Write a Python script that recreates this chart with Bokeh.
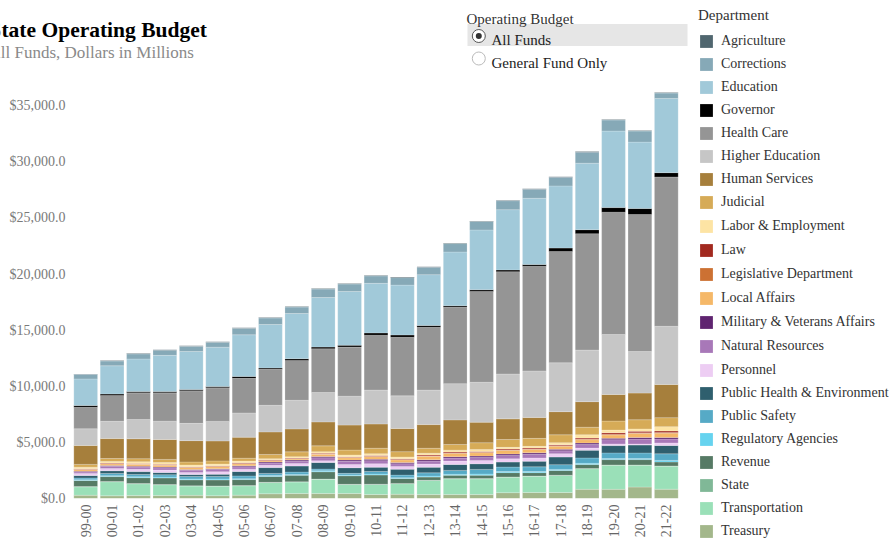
import math
from bokeh.plotting import figure
from bokeh.layouts import row, column
from bokeh.models import (ColumnDataSource, FactorRange, Range1d, Legend, LegendItem, Label,
                          NumeralTickFormatter, SingleIntervalTicker)
from bokeh.embed import file_html
from bokeh.resources import INLINE

# ---------------- data (millions of dollars) ----------------
years = ["99-00", "00-01", "01-02", "02-03", "03-04", "04-05", "05-06", "06-07", "07-08",
         "08-09", "09-10", "10-11", "11-12", "12-13", "13-14", "14-15", "15-16", "16-17",
         "17-18", "18-19", "19-20", "20-21", "21-22"]

departments = ["Agriculture", "Corrections", "Education", "Governor", "Health Care",
               "Higher Education", "Human Services", "Judicial", "Labor & Employment", "Law",
               "Legislative Department", "Local Affairs", "Military & Veterans Affairs",
               "Natural Resources", "Personnel", "Public Health & Environment", "Public Safety",
               "Regulatory Agencies", "Revenue", "State", "Transportation", "Treasury"]

dept_colors = ["#50666f", "#86a9b7", "#a1c9d9", "#000000", "#959595", "#c6c6c6", "#a67f3c",
               "#d6ab57", "#fde4a4", "#a2291f", "#cc7133", "#f5b868", "#5f2470", "#a878b8",
               "#edcdf3", "#2f5f6e", "#56aac6", "#66d3ef", "#567a65", "#80b897", "#9ae0b8",
               "#a3b78b"]

agriculture = [40, 45, 45, 45, 45, 40, 45, 50, 50, 50, 45, 45, 45, 45, 50, 50, 50, 50, 50, 55, 55, 55, 60]
corrections = [404, 426, 453, 462, 462, 431, 577, 580, 572, 750, 666, 666, 666, 666, 750, 750, 800, 800, 777, 985, 985, 985, 480]
education = [2374, 2516, 2907, 3227, 3378, 3503, 3707, 3885, 4027, 4418, 4801, 4418, 4445, 4534, 4801, 5334, 5370, 5903, 5538, 5921, 6819, 5921, 6614]
governor = [150, 124, 116, 116, 116, 116, 178, 116, 151, 142, 151, 204, 204, 151, 133, 151, 151, 151, 302, 356, 409, 533, 382]
health_care = [1920, 2311, 2374, 2525, 2907, 2996, 3076, 3200, 3556, 3912, 4383, 4890, 5218, 5601, 6801, 8090, 9121, 9335, 9921, 10375, 10908, 12215, 13308]
higher_education = [1485, 1538, 1716, 1627, 1538, 1742, 2169, 2374, 2551, 2614, 2578, 3023, 2907, 3076, 3227, 3556, 4000, 4143, 4356, 4596, 5334, 3698, 5183]
human_services = [1689, 1778, 1778, 1778, 1902, 1778, 1867, 2009, 2045, 2134, 2223, 2160, 2071, 2107, 2196, 1831, 1840, 1867, 2062, 2276, 2374, 2374, 2960]
judicial = [250, 260, 280, 285, 270, 280, 260, 380, 440, 530, 440, 500, 470, 440, 500, 600, 700, 710, 710, 680, 800, 820, 800]
labor_employment = [140, 130, 140, 150, 150, 150, 150, 100, 100, 130, 150, 160, 150, 170, 175, 175, 150, 150, 175, 290, 240, 210, 380]
law = [40, 45, 50, 50, 50, 50, 55, 50, 55, 60, 60, 60, 70, 70, 75, 75, 80, 80, 85, 90, 140, 140, 140]
legislative = [30, 32, 32, 30, 30, 32, 33, 35, 36, 37, 36, 36, 37, 38, 40, 42, 42, 45, 48, 50, 55, 60, 60]
local_affairs = [150, 160, 170, 160, 170, 180, 180, 115, 105, 190, 200, 230, 230, 300, 300, 300, 320, 300, 280, 300, 300, 360, 380]
military_veterans = [60, 70, 70, 75, 70, 75, 90, 90, 95, 110, 120, 120, 110, 120, 120, 120, 130, 130, 130, 140, 120, 140, 140]
natural_resources = [150, 190, 200, 200, 190, 200, 210, 200, 200, 270, 280, 280, 250, 265, 265, 265, 300, 330, 255, 310, 380, 430, 350]
personnel = [170, 200, 210, 220, 180, 220, 200, 200, 235, 150, 290, 300, 240, 290, 300, 300, 290, 290, 300, 200, 150, 100, 230]
public_health = [220, 250, 260, 200, 180, 200, 400, 520, 530, 590, 500, 390, 530, 500, 530, 500, 440, 500, 680, 680, 650, 700, 740]
public_safety = [160, 190, 200, 200, 220, 230, 250, 190, 215, 160, 140, 230, 230, 290, 350, 420, 400, 420, 420, 480, 500, 500, 590]
regulatory = [70, 80, 80, 80, 80, 80, 80, 80, 80, 80, 75, 80, 70, 90, 90, 100, 100, 100, 100, 110, 100, 95, 140]
revenue = [540, 440, 520, 590, 530, 530, 530, 520, 570, 650, 760, 820, 440, 280, 290, 300, 380, 300, 420, 350, 470, 470, 350]
state = [20, 25, 25, 25, 25, 25, 25, 25, 25, 25, 25, 25, 25, 25, 25, 25, 25, 25, 25, 25, 25, 25, 25]
transportation = [750, 1250, 1050, 950, 830, 850, 830, 1000, 1030, 1270, 800, 890, 940, 1250, 1400, 1400, 1380, 1450, 1520, 1830, 2150, 1950, 2050]
treasury = [290, 240, 260, 270, 280, 250, 300, 420, 440, 440, 440, 360, 380, 350, 350, 350, 520, 530, 530, 820, 820, 1020, 830]

y_tick_interval = 5000

series = [agriculture, corrections, education, governor, health_care, higher_education,
          human_services, judicial, labor_employment, law, legislative, local_affairs,
          military_veterans, natural_resources, personnel, public_health, public_safety,
          regulatory, revenue, state, transportation, treasury]

SERIF = "Liberation Serif"


def bare_figure(w, h, xr, yr):
    f = figure(width=w, height=h, x_range=xr, y_range=yr, output_backend="svg",
               toolbar_location=None, x_axis_location=None, y_axis_location=None,
               min_border=0, min_border_left=0, min_border_right=0,
               min_border_top=0, min_border_bottom=0)
    f.outline_line_color = None
    f.grid.visible = False
    f.frame_align = False
    return f


# ---------------- header (title + radio selector) ----------------
HW, HH = 690, 72
hdr = bare_figure(HW, HH, Range1d(0, HW), Range1d(HH, 0))


def htext(x, y, s, size, color, bold=False):
    hdr.add_layout(Label(x=x, y=y, text=s, text_font=SERIF, text_font_size=size,
                         text_color=color, text_font_style="bold" if bold else "normal",
                         text_baseline="alphabetic", text_align="left"))


htext(-11, 29, "State Operating Budget", "21.5px", "#000000", bold=True)
htext(-12, 51.5, "All Funds, Dollars in Millions", "17px", "#8a8a8a")
htext(466, 18.3, "Operating Budget", "15px", "#333333")
hdr.quad(left=[467], right=[687], top=[23.5], bottom=[45.5], fill_color="#e6e6e6",
         line_color=None)
hdr.scatter(x=[478.3], y=[35.5], size=13, marker="circle", fill_color="white",
            line_color="#555555", line_width=1)
hdr.scatter(x=[478.3], y=[35.5], size=6, marker="circle", fill_color="#333333", line_color=None)
htext(491, 39.5, "All Funds", "15px", "#222222")
hdr.scatter(x=[478.3], y=[58], size=13, marker="circle", fill_color="white",
            line_color="#bbbbbb", line_width=1)
htext(491, 62.5, "General Fund Only", "15px", "#222222")

# ---------------- main stacked bar chart ----------------
MW, MH = 690, 468
FRAME_L, FRAME_R, FRAME_T, FRAME_B = 72, 679, 19, 427

data = {"year": years}
for name, vals in zip(departments, series):
    data[name] = vals
src = ColumnDataSource(data)

y_max = 36270

p = figure(width=MW, height=MH, x_range=FactorRange(factors=years, range_padding=0),
           y_range=Range1d(0, y_max), output_backend="svg", toolbar_location=None,
           min_border_left=FRAME_L, min_border_right=MW - FRAME_R,
           min_border_top=FRAME_T, min_border_bottom=MH - FRAME_B)
p.outline_line_color = None
p.xgrid.visible = False
p.ygrid.visible = False
p.frame_align = False

stack_order = departments[::-1]          # Treasury at the bottom, Agriculture on top
stack_colors = dept_colors[::-1]
renderers = p.vbar_stack(stack_order, x="year", width=0.9, color=stack_colors, source=src,
                         line_color="white", line_width=0.4, line_alpha=0.5)

ya = p.yaxis[0]
ya.ticker = SingleIntervalTicker(interval=y_tick_interval, num_minor_ticks=0)
ya.formatter = NumeralTickFormatter(format="$0,0.0")
ya.axis_line_color = None
ya.major_tick_line_color = None
ya.minor_tick_line_color = None
ya.major_tick_in = 0
ya.major_tick_out = 0
ya.major_label_standoff = 7
ya.major_label_text_font = SERIF
ya.major_label_text_font_size = "14px"
ya.major_label_text_color = "#7a7a7a"

xa = p.xaxis[0]
xa.axis_line_color = None
xa.major_tick_line_color = None
xa.major_tick_in = 0
xa.major_tick_out = 0
xa.major_label_standoff = 6
xa.major_label_orientation = math.pi / 2
xa.major_label_text_font = SERIF
xa.major_label_text_font_size = "14px"
xa.major_label_text_color = "#666666"

# ---------------- legend panel ----------------
LW, LH = 199, 540
lg = bare_figure(LW, LH, Range1d(0, 1), Range1d(0, 1))

swatches = []
for c in dept_colors:
    # off-screen zero-height bar: only its legend swatch is visible
    swatches.append(lg.vbar(x=[-5], top=[0], bottom=[0], width=0.9, fill_color=c,
                            line_color=None))

base_style = dict(padding=0, margin=0, glyph_width=16, glyph_height=16, label_height=16,
                  label_standoff=7, border_line_color=None, background_fill_alpha=0,
                  label_text_font=SERIF, label_text_font_size="14px",
                  label_text_color="#333333")

items = [LegendItem(label=d, renderers=[r]) for d, r in zip(departments, swatches)]
legend_a = Legend(items=items[:8], location=(8, LH - 210.35), spacing=7,
                  title="Department", title_text_font=SERIF, title_text_font_size="15px",
                  title_text_font_style="normal", title_text_color="#333333",
                  title_standoff=9, **base_style)
legend_b = Legend(items=items[8:15], location=(8, LH - 377.9), spacing=8, **base_style)
legend_c = Legend(items=items[15:], location=(8, LH - 539.15), spacing=7, **base_style)
lg.add_layout(legend_a)
lg.add_layout(legend_b)
lg.add_layout(legend_c)

layout = row(column(hdr, p), lg)

open("out.html", "w").write(file_html(layout, INLINE))
